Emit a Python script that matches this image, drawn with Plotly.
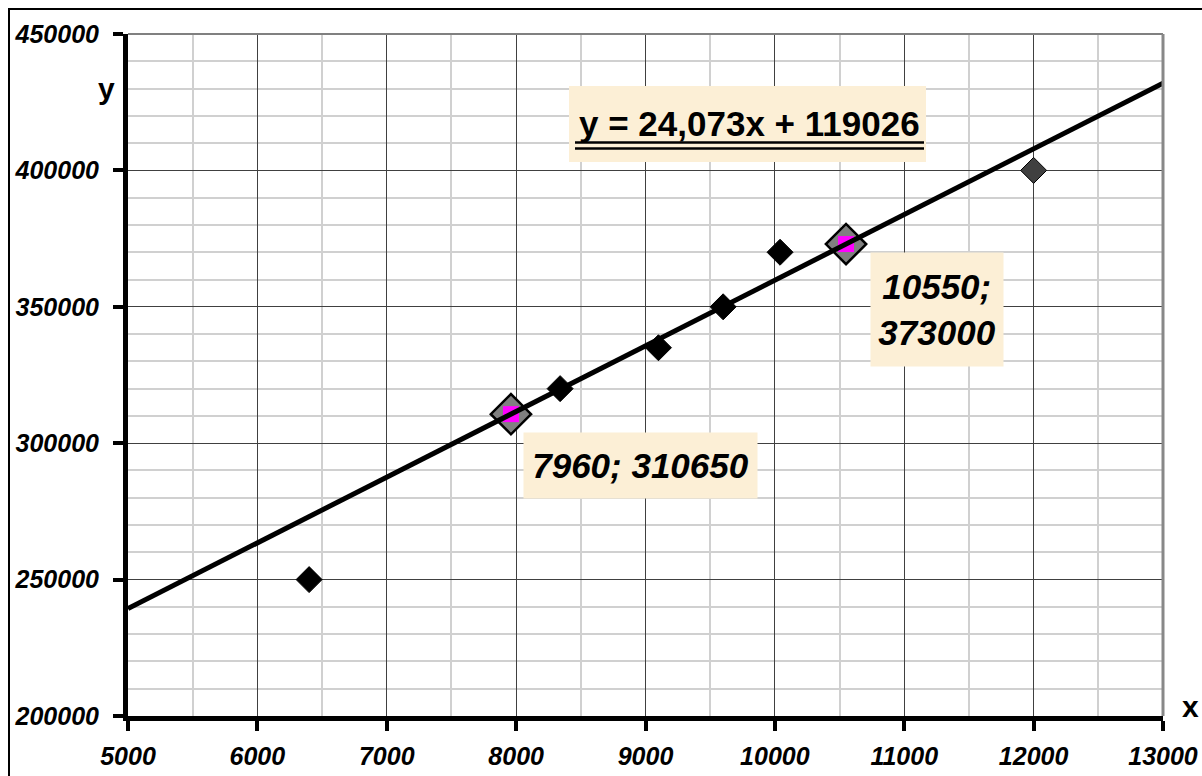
import plotly.graph_objects as go

# ---- data ----
x_obs = [6400, 8340, 9100, 9600, 10040, 12000]
y_obs = [250000, 320000, 335000, 350000, 370000, 400000]
obs_colors = ["#000000", "#000000", "#000000", "#000000", "#000000", "#404040"]

x_sel = [7960, 10550]
y_sel = [310650, 373000]
sel_labels = ["7960; 310650", "10550;<br>373000"]

slope = 24.073
intercept = 119026
x_trend = [5000, 13000]
y_trend = [slope * v + intercept for v in x_trend]
equation = "y = 24,073x + 119026"

x_range = [5000, 13000]
y_range = [200000, 450000]

FONT = "Liberation Sans, Arial, sans-serif"
BOX = "#FCEFD6"

# plot area geometry (pixels) used for paper-coordinate placement
L, R, T, B = 128, 1163, 34, 716
W, H = R - L, B - T


def px(x):
    return (x - L) / W


def py(y):
    return (B - y) / H


fig = go.Figure()

fig.add_trace(go.Scatter(
    x=x_obs, y=y_obs, mode="markers",
    marker=dict(symbol="diamond", size=20, color=obs_colors,
                line=dict(color="#000000", width=1)),
    showlegend=False, cliponaxis=False))

fig.add_trace(go.Scatter(
    x=x_sel, y=y_sel, mode="markers",
    marker=dict(symbol="diamond", size=31, color="#808080",
                line=dict(color="#000000", width=2.5)),
    showlegend=False, cliponaxis=False))

fig.add_trace(go.Scatter(
    x=x_sel, y=y_sel, mode="markers",
    marker=dict(symbol="square", size=16, color="#FF00FF",
                line=dict(width=0)),
    showlegend=False, cliponaxis=False))

fig.add_trace(go.Scatter(
    x=x_trend, y=y_trend, mode="lines",
    line=dict(color="#000000", width=5),
    showlegend=False))

axis_common = dict(
    showline=True, linecolor="#000000",
    ticks="outside", ticklen=10, tickwidth=4, tickcolor="#000000",
    showgrid=True, gridcolor="#404040", gridwidth=1,
    tickfont=dict(family=FONT, size=25, color="#000000",
                  weight="bold", style="italic"),
    zeroline=False, tickformat="d",
)

fig.update_xaxes(range=x_range, dtick=1000, tick0=5000, linewidth=5,
                 ticklabelstandoff=4,
                 minor=dict(dtick=500, tick0=5000, showgrid=True,
                            gridcolor="#D0D0D0", gridwidth=2, ticks=""),
                 **axis_common)
fig.update_yaxes(range=y_range, dtick=50000, tick0=200000, linewidth=5,
                 ticklabelstandoff=9,
                 minor=dict(dtick=10000, tick0=200000, showgrid=True,
                            gridcolor="#D0D0D0", gridwidth=2, ticks=""),
                 **axis_common)

shapes = [
    # outer chart frame
    dict(type="rect", xref="paper", yref="paper",
         x0=px(9), x1=px(1215), y0=py(790), y1=py(9),
         line=dict(color="#000000", width=2), fillcolor="rgba(0,0,0,0)",
         layer="above"),
    # top and right plot borders (grey)
    dict(type="line", xref="paper", yref="paper", x0=0, x1=1, y0=1, y1=1,
         line=dict(color="#808080", width=2), layer="above"),
    dict(type="line", xref="paper", yref="paper", x0=1, x1=1, y0=0, y1=1,
         line=dict(color="#888888", width=3), layer="above"),
    # equation box
    dict(type="rect", xref="paper", yref="paper",
         x0=px(569), x1=px(926), y0=py(162), y1=py(86),
         line=dict(width=0), fillcolor=BOX, layer="above"),
    # double underline of the equation
    dict(type="line", xref="paper", yref="paper",
         x0=px(575), x1=px(924), y0=py(142.5), y1=py(142.5),
         line=dict(color="#000000", width=2.5), layer="above"),
    dict(type="line", xref="paper", yref="paper",
         x0=px(575), x1=px(924), y0=py(148.5), y1=py(148.5),
         line=dict(color="#000000", width=2.5), layer="above"),
]

annotations = [
    dict(text="<b>y</b>", xref="paper", yref="paper", x=px(106), y=py(88),
         xanchor="center", yanchor="middle",
         showarrow=False, font=dict(family=FONT, size=30, color="#000000")),
    dict(text="<b>x</b>", xref="paper", yref="paper", x=px(1190), y=py(706),
         xanchor="center", yanchor="middle",
         showarrow=False, font=dict(family=FONT, size=30, color="#000000")),
    dict(text="<b>" + equation + "</b>", xref="paper", yref="paper",
         x=px(749), y=py(123), xanchor="center", yanchor="middle",
         showarrow=False,
         font=dict(family=FONT, size=35, color="#000000")),
    dict(text="<b><i>" + sel_labels[0] + "</i></b>", xref="paper", yref="paper",
         x=px(640.5), y=py(465.5), xanchor="center", yanchor="middle",
         showarrow=False, bgcolor=BOX,
         width=233, height=65, borderpad=0,
         font=dict(family=FONT, size=35, color="#000000")),
    dict(text="<b><i>" + sel_labels[1] + "</i></b>", xref="paper", yref="paper",
         x=px(937), y=py(309.5), xanchor="center", yanchor="middle",
         showarrow=False, bgcolor=BOX,
         width=132, height=113, borderpad=0,
         font=dict(family=FONT, size=35, color="#000000")),
]

fig.update_layout(
    width=1202, height=776,
    margin=dict(l=L, r=1202 - R, t=T, b=776 - B, autoexpand=False),
    paper_bgcolor="#FFFFFF", plot_bgcolor="#FFFFFF",
    shapes=shapes, annotations=annotations, showlegend=False,
)

fig.write_html("out.html",
               config={"displayModeBar": False},
               post_script="document.body.style.margin='0px';"
                           "document.body.style.padding='0px';")
